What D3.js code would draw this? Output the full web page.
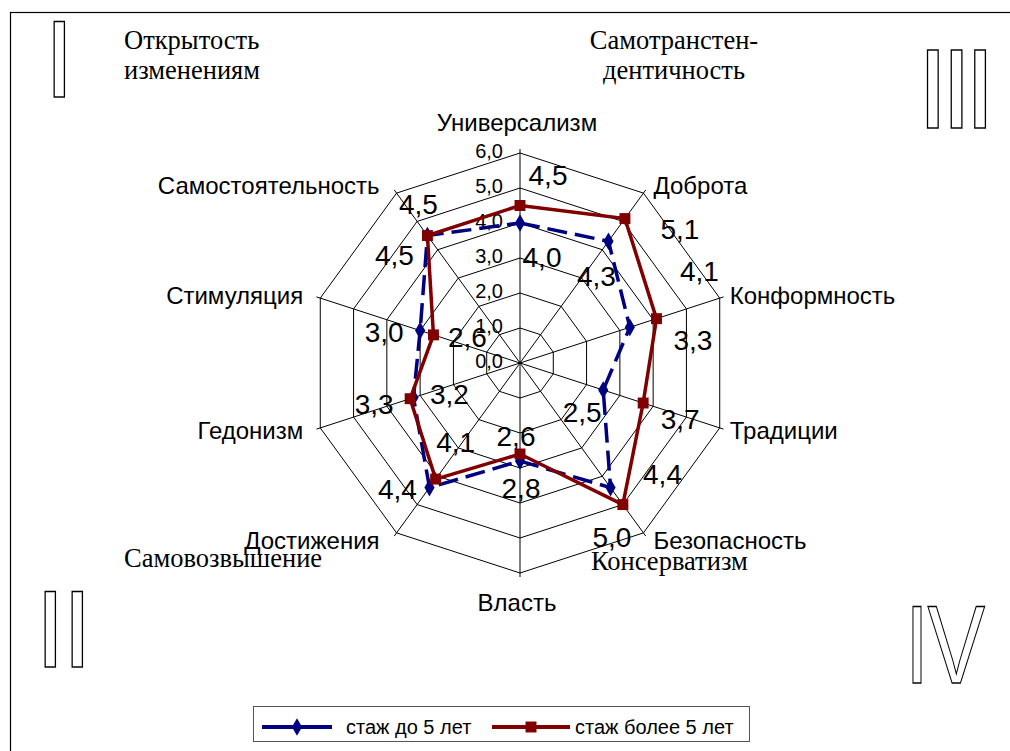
<!DOCTYPE html>
<html>
<head>
<meta charset="utf-8">
<script src="https://cdn.jsdelivr.net/npm/d3@7"></script>
<style>
  body { margin: 0; background: #fff; }
  svg { display: block; }
</style>
</head>
<body>
<svg id="chart" width="1010" height="751"></svg>
<script>
// категории (оси радара), по часовой стрелке от верха
var categories = ['Универсализм', 'Доброта', 'Конформность', 'Традиции', 'Безопасность',
  'Власть', 'Достижения', 'Гедонизм', 'Стимуляция', 'Самостоятельность']
// стаж до 5 лет
var under5 = [4.0, 4.3, 3.3, 2.5, 4.4, 2.8, 4.4, 3.2, 3.0, 4.5]
// стаж более 5 лет
var over5 = [4.5, 5.1, 4.1, 3.7, 5.0, 2.6, 4.1, 3.3, 2.6, 4.5]
var ticks = [0, 1, 2, 3, 4, 5, 6]
var seriesNames = ['стаж до 5 лет', 'стаж более 5 лет']

// сдвиги подписей значений относительно маркеров (подписи в оригинале передвинуты вручную)
var under5LabelShift = [[22, 34], [-12, 35], [63, 13], [-21, 22], [52, -13], [1, 27], [-32, 2], [36, -3], [-36, 2], [-33, 20]]
var over5LabelShift = [[28, -30], [55, 11], [43, -47], [37, 16], [-11, 33], [-4, -18], [20, -37], [-36, 6], [34, 3], [-9, -31]]

var svg = d3.select('#chart')
var cx = 520
var cy = 363
var R = 210

var r = d3.scaleLinear().domain([0, 6]).range([0, R])
var angle = d3.scaleLinear().domain([0, categories.length]).range([0, 2 * Math.PI])
var fmt = function (v) { return d3.format('.1f')(v).replace('.', ',') }

function pt(i, v) {
  var a = angle(i)
  return [cx + r(v) * Math.sin(a), cy - r(v) * Math.cos(a)]
}

// рамка (обрезана справа и снизу)
svg.append('rect')
  .attr('x', 10.5).attr('y', 12.5)
  .attr('width', 1100).attr('height', 900)
  .attr('fill', 'none').attr('stroke', '#000').attr('stroke-width', 1.2)

// сетка
var grid = svg.append('g').attr('class', 'grid')
ticks.filter(function (t) { return t > 0 }).forEach(function (t) {
  grid.append('polygon')
    .attr('points', categories.map(function (c, i) { return pt(i, t).join(',') }).join(' '))
    .attr('fill', 'none').attr('stroke', '#000').attr('stroke-width', 1)
})
categories.forEach(function (c, i) {
  var a = angle(i)
  grid.append('line')
    .attr('x1', cx).attr('y1', cy)
    .attr('x2', cx + (R + 4) * Math.sin(a)).attr('y2', cy - (R + 4) * Math.cos(a))
    .attr('stroke', '#000').attr('stroke-width', 1)
})

// подписи шкалы
svg.append('g').selectAll('text').data(ticks).join('text')
  .attr('x', cx - 17)
  .attr('y', function (d) { return cy - r(d) - 2 })
  .attr('text-anchor', 'end')
  .attr('dominant-baseline', 'central')
  .attr('font-family', 'Arial, "Liberation Sans", sans-serif')
  .attr('font-size', 20)
  .text(fmt)

// подписи осей
svg.append('g').selectAll('text').data(categories).join('text')
  .attr('x', function (d, i) {
    var s = Math.sin(angle(i))
    var x = cx + R * s
    if (Math.abs(s) < 0.01) return x - 3
    return s > 0 ? x + 10 : x - 17
  })
  .attr('y', function (d, i) {
    var c = Math.cos(angle(i))
    var y = cy - R * c
    if (c > 0.99) return y - 31
    if (c < -0.99) return y + 29
    return y - 9 * c
  })
  .attr('text-anchor', function (d, i) {
    var s = Math.sin(angle(i))
    if (Math.abs(s) < 0.01) return 'middle'
    return s > 0 ? 'start' : 'end'
  })
  .attr('dominant-baseline', 'central')
  .attr('font-family', 'Arial, "Liberation Sans", sans-serif')
  .attr('font-size', 24)
  .text(function (d) { return d })

// линии серий
var line = d3.line().curve(d3.curveLinearClosed)
var series = [
  { name: seriesNames[0], values: under5, shift: under5LabelShift, color: '#000080', dash: '20,8', marker: d3.symbolDiamond, size: 90 },
  { name: seriesNames[1], values: over5, shift: over5LabelShift, color: '#800000', dash: null, marker: d3.symbolSquare, size: 120 }
]

series.forEach(function (s) {
  var pts = s.values.map(function (v, i) { return pt(i, v) })
  svg.append('path')
    .attr('d', line(pts))
    .attr('fill', 'none')
    .attr('stroke', s.color)
    .attr('stroke-width', 3.5)
    .attr('stroke-dasharray', s.dash)
  svg.append('g').selectAll('path').data(pts).join('path')
    .attr('transform', function (d) { return 'translate(' + d[0] + ',' + d[1] + ')' })
    .attr('d', d3.symbol().type(s.marker).size(s.size))
    .attr('fill', s.color)
})

// подписи значений
series.forEach(function (s) {
  svg.append('g').selectAll('text').data(s.values).join('text')
    .attr('x', function (d, i) { return pt(i, d)[0] + s.shift[i][0] })
    .attr('y', function (d, i) { return pt(i, d)[1] + s.shift[i][1] })
    .attr('text-anchor', 'middle')
    .attr('dominant-baseline', 'central')
    .attr('font-family', 'Arial, "Liberation Sans", sans-serif')
    .attr('font-size', 28)
    .text(fmt)
})

// группы ценностей (Times)
var groups = [
  { lines: ['Открытость', 'изменениям'], x: 124, y: 40, anchor: 'start' },
  { lines: ['Самотранстен-', 'дентичность'], x: 674, y: 40, anchor: 'middle' },
  { lines: ['Самовозвышение'], x: 124, y: 558, anchor: 'start' },
  { lines: ['Консерватизм'], x: 591, y: 561, anchor: 'start' }
]
groups.forEach(function (g) {
  var t = svg.append('text')
    .attr('x', g.x).attr('y', g.y)
    .attr('text-anchor', g.anchor)
    .attr('dominant-baseline', 'central')
    .attr('font-family', '"Times New Roman", "Liberation Serif", serif')
    .attr('font-size', 26.5)
  g.lines.forEach(function (l, k) {
    t.append('tspan').attr('x', g.x).attr('dy', k === 0 ? 0 : 30).text(l)
  })
})

// римские цифры (контурные)
var numerals = [
  { text: 'I', x: 44, y: 97, size: 110, spacing: 0, sx: 1 },
  { text: 'II', x: 35, y: 667, size: 110, spacing: -3.6, sx: 1 },
  { text: 'III', x: 917, y: 128, size: 114, spacing: -8, sx: 1 },
  { text: 'IV', x: 905, y: 683, size: 112, spacing: -2, sx: 0.77 }
]
numerals.forEach(function (n) {
  svg.append('text')
    .attr('transform', 'translate(' + n.x + ',' + n.y + ') scale(' + n.sx + ',1)')
    .attr('font-family', 'Arial, "Liberation Sans", sans-serif')
    .attr('font-size', n.size)
    .attr('letter-spacing', n.spacing)
    .attr('fill', '#fff')
    .attr('stroke', '#000')
    .attr('stroke-width', 1.3)
    .text(n.text)
})

// легенда
var legend = svg.append('g').attr('class', 'legend')
legend.append('rect')
  .attr('x', 253.5).attr('y', 706.5).attr('width', 496).attr('height', 35)
  .attr('fill', '#fff').attr('stroke', '#555').attr('stroke-width', 1)
var legendItems = [
  { s: series[0], x1: 262, x2: 332, tx: 346 },
  { s: series[1], x1: 492, x2: 570, tx: 575 }
]
legendItems.forEach(function (it) {
  var ly = 727
  legend.append('line')
    .attr('x1', it.x1).attr('x2', it.x2).attr('y1', ly).attr('y2', ly)
    .attr('stroke', it.s.color).attr('stroke-width', 4)
  legend.append('path')
    .attr('transform', 'translate(' + (it.x1 + it.x2) / 2 + ',' + ly + ')')
    .attr('d', d3.symbol().type(it.s.marker).size(it.s.size))
    .attr('fill', it.s.color)
  legend.append('text')
    .attr('x', it.tx).attr('y', ly)
    .attr('dominant-baseline', 'central')
    .attr('font-family', 'Arial, "Liberation Sans", sans-serif')
    .attr('font-size', 20)
    .text(it.s.name)
})
</script>
</body>
</html>
